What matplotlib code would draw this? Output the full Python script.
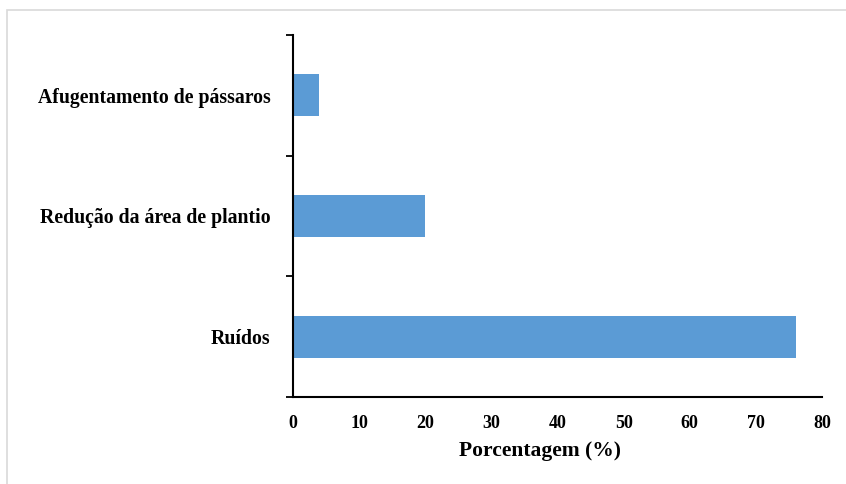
import matplotlib
matplotlib.use("Agg")
import matplotlib.pyplot as plt
from matplotlib.patches import Rectangle

categories = ["Ruídos", "Redução da área de plantio", "Afugentamento de pássaros"]
values = [76, 20, 4]
xticks = [0, 10, 20, 30, 40, 50, 60, 70, 80]

plt.rcParams['font.family'] = ['Liberation Serif', 'DejaVu Serif']
plt.rcParams['font.weight'] = 'bold'

fig = plt.figure(figsize=(8.46, 4.84), dpi=100)
fig.patches.append(Rectangle((7/846, -0.1), 1.2, 1 - 10/484 + 0.1, transform=fig.transFigure,
                             fill=False, edgecolor='#d9d9d9', linewidth=1.2))
ax = fig.add_axes([293/846, 1-397/484, (822-293)/846, (397-35)/484])

pos = list(range(len(categories)))
ax.barh(pos, values, height=0.35, color='#5B9BD5')
ax.set_xlim(0, 80)
ax.set_ylim(-0.5, 2.5)
ax.set_xticks(xticks)
ax.set_xticklabels([str(t) for t in xticks], fontsize=13, fontweight='bold')
ax.tick_params(axis='x', length=0, pad=13)
ax.set_yticks([-0.5, 0.5, 1.5, 2.5])
ax.set_yticklabels([])
ax.set_yticks(pos, minor=True)
ax.set_yticklabels(categories, minor=True, fontsize=14.2, fontweight='bold')
ax.tick_params(axis='y', which='major', length=5, width=1.3, direction='out')
ax.tick_params(axis='y', which='minor', length=0, pad=16)
for s in ['top', 'right']:
    ax.spines[s].set_visible(False)
for s in ['left', 'bottom']:
    ax.spines[s].set_linewidth(1.5)
ax.set_xlabel("Porcentagem (%)", fontsize=15.5, fontweight='bold', va='center')
ax.xaxis.set_label_coords((540 - 293) / 529, (397 - 451) / 362)

fig.savefig("out.png", dpi=100)
